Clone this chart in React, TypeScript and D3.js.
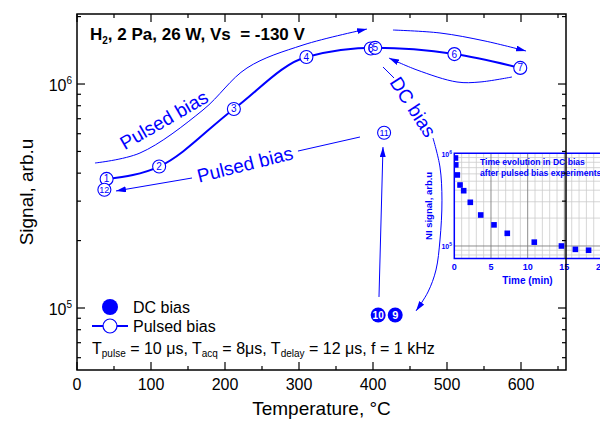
import React from "react";
import * as d3 from "d3";

// ---------- main chart data ----------
const xTicks = [0, 100, 200, 300, 400, 500, 600];
const xMinorTicks = [50, 150, 250, 350, 450, 550, 650];
const yMajorTicks = [1e5, 1e6];

// pulsed bias points (open circles, numbered)
const pulsedLabels = ["1", "2", "3", "4", "8", "5", "6", "7", "11", "12"];
const pulsedTemp = [40, 111, 212, 310, 397, 403, 510, 599, 415, 37];
const pulsedSignal = [3.77e5, 4.28e5, 7.74e5, 1.32e6, 1.44e6, 1.45e6, 1.36e6, 1.18e6, 6.06e5, 3.37e5];
// points joined by the pulsed-bias line, in order
const pulsedLineLabels = ["1", "2", "3", "4", "5", "6", "7"];

// DC bias points (filled circles, numbered)
const dcLabels = ["10", "9"];
const dcTemp = [407, 430];
const dcSignal = [9.3e4, 9.3e4];

// ---------- annotation paths (data space: temperature, signal) ----------
const arrowUpT = [24.3, 85.1, 170.3, 229.7, 305.4, 391.9];
const arrowUpS = [4.44e5, 4.92e5, 7.66e5, 1.179e6, 1.493e6, 1.76e6];
const arrowTopT = [427, 490.5, 551.4, 606.8];
const arrowTopS = [1.742e6, 1.69e6, 1.556e6, 1.404e6];
const arrowBackT = [587.8, 544.6, 513.5, 459.5, 421.6];
const arrowBackS = [1.075e6, 1.021e6, 1.021e6, 1.155e6, 1.306e6];
const dcPreT = [413.5, 428.4];
const dcPreS = [1.191e6, 1.064e6];
const dcArcT = [481.1, 490.5, 493.2, 490.5, 485.1, 474.3, 458.1];
const dcArcS = [5.74e5, 4.26e5, 3.03e5, 2.012e5, 1.478e5, 1.179e5, 9.7e4];
const arrowRiseT = [408.1, 413.5];
const arrowRiseS = [1.12e5, 5.23e5];
const lowRightT = [382.4, 298.6];
const lowRightS = [5.8e5, 5.02e5];
const lowLeftT = [155.4, 52.7];
const lowLeftS = [3.805e5, 3.33e5];

const labelUpper = { text: "Pulsed bias", t: 117.6, s: 6.91e5, angle: -30 };
const labelLower = { text: "Pulsed bias", t: 227, s: 4.37e5, angle: -14 };
const labelDC = { text: "DC bias", t: 454, s: 7.9e5, angle: 57 };

// ---------- inset data ----------
const insetTime = [0.16, 0.2, 0.41, 0.78, 1.28, 2.18, 3.6, 5.41, 7.22, 10.9, 14.6, 16.5, 18.3];
const insetSignal = [8.9e5, 7.5e5, 5.84e5, 4.55e5, 3.95e5, 2.96e5, 2.16e5, 1.69e5, 1.37e5, 1.1e5, 1.0e5, 9.2e4, 9.0e4];
const insetXTicks = [0, 5, 10, 15, 20];
const insetYMajor = [1e5, 1e6];

const BLUE = "#0000ff";
const FONT = "'Liberation Sans', Arial, Helvetica, sans-serif";

export default function App() {
  const L = 77, R = 566, T = 14, B = 370;
  const x = d3.scaleLinear().domain([0, 660]).range([77, 565.4]);
  const y = d3.scaleLog().domain([5.287e4, 2.054e6]).range([B, T]);

  const yMinor: number[] = [];
  [1e4, 1e5, 1e6].forEach((d) => {
    for (let m = 2; m <= 9; m++) {
      const v = d * m;
      if (v > y.domain()[0] && v < y.domain()[1]) yMinor.push(v);
    }
  });

  const path = (ts: number[], ss: number[], curve: d3.CurveFactory = d3.curveLinear) =>
    d3
      .line<[number, number]>()
      .x((d) => x(d[0]))
      .y((d) => y(d[1]))
      .curve(curve)(ts.map((t, i) => [t, ss[i]] as [number, number])) || "";

  const pulsedIdx = pulsedLineLabels.map((l) => pulsedLabels.indexOf(l));
  const pulsedPath = path(
    pulsedIdx.map((i) => pulsedTemp[i]),
    pulsedIdx.map((i) => pulsedSignal[i]),
    d3.curveMonotoneX
  );

  // inset scales
  const ix = d3.scaleLinear().domain([0, 21]).range([454.3, 608.4]);
  const iy = d3.scaleLog().domain([7.33e4, 1e6]).range([258.5, 153.3]);
  const iL = 454.3, iT = 153.3, iB = 258.5, iR = 612;
  const iMinorY: number[] = [];
  [1e4, 1e5].forEach((d) => {
    for (let m = 2; m <= 9; m++) {
      const v = d * m;
      if (v > iy.domain()[0] && v < iy.domain()[1]) iMinorY.push(v);
    }
  });
  const iMinorX = d3.range(1, 21).filter((v) => v % 5 !== 0);

  const arc = d3.curveCatmullRom.alpha(0.5);

  const rotLabel = (lab: { text: string; t: number; s: number; angle: number }) => (
    <text
      transform={`translate(${x(lab.t)},${y(lab.s)}) rotate(${lab.angle})`}
      textAnchor="middle"
      dominantBaseline="central"
      fontSize={19}
      fill={BLUE}
    >
      {lab.text}
    </text>
  );

  return (
    <svg
      width={600}
      height={423}
      style={{ position: "absolute", left: 0, top: 0, background: "#fff" }}
      fontFamily={FONT}
    >
      <defs>
        <marker
          id="ah"
          viewBox="0 0 10 6"
          refX={10}
          refY={3}
          markerWidth={10}
          markerHeight={6}
          markerUnits="userSpaceOnUse"
          orient="auto"
        >
          <path d="M0,0 L10,3 L0,6 z" fill={BLUE} />
        </marker>
        <clipPath id="insetClip">
          <rect x={iL} y={iT} width={iR - iL} height={iB - iT} />
        </clipPath>
      </defs>
      <rect x={0} y={0} width={600} height={423} fill="#fff" />

      {/* ---------------- inset ---------------- */}
      <g>
        <rect x={iL} y={iT} width={iR - iL} height={iB - iT} fill="#fff" />
        <g clipPath="url(#insetClip)">
          {iMinorX.map((v) => (
            <line key={"ivx" + v} x1={ix(v)} x2={ix(v)} y1={iT} y2={iB} stroke="#cccccc" strokeWidth={0.8} />
          ))}
          {iMinorY.map((v) => (
            <line key={"ivy" + v} x1={iL} x2={iR} y1={iy(v)} y2={iy(v)} stroke="#cccccc" strokeWidth={0.8} />
          ))}
          {[5, 10, 15, 20].map((v) => (
            <line key={"iMx" + v} x1={ix(v)} x2={ix(v)} y1={iT} y2={iB} stroke="#808080" strokeWidth={0.9} />
          ))}
          <line x1={iL} x2={iR} y1={iy(1e5)} y2={iy(1e5)} stroke="#808080" strokeWidth={0.9} />
          {insetTime.map((t, i) => (
            <rect key={"sq" + i} x={ix(t) - 2.8} y={iy(insetSignal[i]) - 2.8} width={5.6} height={5.6} fill={BLUE} />
          ))}
        </g>
        <path d={`M${iR},${iT} H${iL} V${iB} H${iR}`} fill="none" stroke={BLUE} strokeWidth={1.5} />
        {insetYMajor.map((v) => (
          <text key={"iyl" + v} x={452} y={iy(v) + 3.5} textAnchor="end" fontSize={7} fontWeight="bold" fill={BLUE}>
            10<tspan dy={-3} fontSize={5}>{Math.log10(v)}</tspan>
          </text>
        ))}
        {insetXTicks.map((v) => (
          <text key={"ixl" + v} x={ix(v)} y={270} textAnchor="middle" fontSize={9} fontWeight="bold" fill={BLUE}>
            {v}
          </text>
        ))}
        <text x={527.5} y={283.5} textAnchor="middle" fontSize={10} fontWeight="bold" fill={BLUE}>
          Time (min)
        </text>
        <text
          transform={`translate(432,${(iT + iB) / 2}) rotate(-90)`}
          textAnchor="middle"
          fontSize={9.5}
          fontWeight="bold"
          fill={BLUE}
        >
          NI signal, arb.u
        </text>
        <text x={480} y={165} fontSize={8.6} fontWeight="bold" fill={BLUE}>
          Time evolution in DC bias
        </text>
        <text x={480} y={176} fontSize={8.6} fontWeight="bold" fill={BLUE}>
          after pulsed bias experiments
        </text>
      </g>

      {/* ---------------- main frame & ticks ---------------- */}
      <rect x={L} y={T} width={R - L} height={B - T} fill="none" stroke="#000" strokeWidth={1.5} />
      {xTicks.map((v) => (
        <g key={"xt" + v}>
          <line x1={x(v)} x2={x(v)} y1={B} y2={B - 8} stroke="#000" strokeWidth={1.2} />
          <line x1={x(v)} x2={x(v)} y1={T} y2={T + 8} stroke="#000" strokeWidth={1.2} />
          <text x={x(v)} y={390} textAnchor="middle" fontSize={16} fill="#000">
            {v}
          </text>
        </g>
      ))}
      {xMinorTicks.map((v) => (
        <g key={"xm" + v}>
          <line x1={x(v)} x2={x(v)} y1={B} y2={B - 4} stroke="#000" strokeWidth={1.2} />
          <line x1={x(v)} x2={x(v)} y1={T} y2={T + 4} stroke="#000" strokeWidth={1.2} />
        </g>
      ))}
      {yMajorTicks.map((v) => (
        <g key={"yt" + v}>
          <line x1={L} x2={L + 8} y1={y(v)} y2={y(v)} stroke="#000" strokeWidth={1.2} />
          <line x1={R} x2={R - 8} y1={y(v)} y2={y(v)} stroke="#000" strokeWidth={1.2} />
          <text x={72} y={y(v) + 7} textAnchor="end" fontSize={16} fill="#000">
            10<tspan dy={-7} fontSize={10}>{Math.log10(v)}</tspan>
          </text>
        </g>
      ))}
      {yMinor.map((v) => (
        <g key={"ym" + v}>
          <line x1={L} x2={L + 4} y1={y(v)} y2={y(v)} stroke="#000" strokeWidth={1.2} />
          <line x1={R} x2={R - 4} y1={y(v)} y2={y(v)} stroke="#000" strokeWidth={1.2} />
        </g>
      ))}
      <text x={321.5} y={415} textAnchor="middle" fontSize={19} fill="#000">
        Temperature, °C
      </text>
      <text transform="translate(33,192) rotate(-90)" textAnchor="middle" fontSize={19} fill="#000">
        Signal, arb.u
      </text>

      {/* ---------------- title ---------------- */}
      <text x={90} y={40} fontSize={17} fontWeight="bold" fill="#000" style={{ whiteSpace: "pre" }}>
        H<tspan dy={4} fontSize={10}>2</tspan>
        <tspan dy={-4}>{", 2 Pa, 26 W, Vs  = -130 V"}</tspan>
      </text>

      {/* ---------------- annotations ---------------- */}
      <g fill="none" stroke={BLUE} strokeWidth={1}>
        <path d={path(arrowUpT, arrowUpS, arc)} markerEnd="url(#ah)" />
        <path d={path(arrowTopT, arrowTopS, arc)} markerEnd="url(#ah)" />
        <path d={path(arrowBackT, arrowBackS, arc)} markerEnd="url(#ah)" />
        <path d={path(dcPreT, dcPreS)} />
        <path d={path(dcArcT, dcArcS, arc)} markerEnd="url(#ah)" />
        <path d={path(arrowRiseT, arrowRiseS)} markerEnd="url(#ah)" />
        <path d={path(lowRightT, lowRightS)} />
        <path d={path(lowLeftT, lowLeftS)} markerEnd="url(#ah)" />
      </g>
      {rotLabel(labelUpper)}
      {rotLabel(labelLower)}
      {rotLabel(labelDC)}

      {/* ---------------- data ---------------- */}
      <path d={pulsedPath} fill="none" stroke={BLUE} strokeWidth={2} />
      {pulsedLabels.map((lab, i) => (
        <circle
          key={"pc" + lab}
          cx={x(pulsedTemp[i])}
          cy={y(pulsedSignal[i])}
          r={6.5}
          fill="#fff"
          stroke={BLUE}
          strokeWidth={1.1}
        />
      ))}
      {pulsedLabels.map((lab, i) => (
        <text
          key={"pt" + lab}
          x={x(pulsedTemp[i])}
          y={y(pulsedSignal[i]) + 3.5}
          textAnchor="middle"
          fontSize={lab.length > 1 ? 9 : 10}
          fill={BLUE}
        >
          {lab}
        </text>
      ))}
      {dcLabels.map((lab, i) => (
        <g key={"d" + lab}>
          <circle cx={x(dcTemp[i])} cy={y(dcSignal[i])} r={7.5} fill={BLUE} />
          <text
            x={x(dcTemp[i])}
            y={y(dcSignal[i]) + 3.8}
            textAnchor="middle"
            fontSize={lab.length > 1 ? 10 : 11}
            fontWeight="bold"
            fill="#fff"
          >
            {lab}
          </text>
        </g>
      ))}

      {/* ---------------- legend ---------------- */}
      <circle cx={110} cy={307} r={8} fill={BLUE} />
      <text x={133} y={313} fontSize={16} fill="#000">
        DC bias
      </text>
      <line x1={92} x2={128} y1={326} y2={326} stroke={BLUE} strokeWidth={2} />
      <circle cx={110} cy={326} r={7} fill="#fff" stroke={BLUE} strokeWidth={1.2} />
      <text x={133} y={332} fontSize={16} fill="#000">
        Pulsed bias
      </text>
      <text x={92} y={354} fontSize={16} fill="#000">
        T<tspan dy={3} fontSize={10}>pulse</tspan>
        <tspan dy={-3}>{" = 10 μs, T"}</tspan>
        <tspan dy={3} fontSize={10}>acq</tspan>
        <tspan dy={-3}>{" = 8μs, T"}</tspan>
        <tspan dy={3} fontSize={10}>delay</tspan>
        <tspan dy={-3}>{" = 12 μs, f = 1 kHz"}</tspan>
      </text>
    </svg>
  );
}
